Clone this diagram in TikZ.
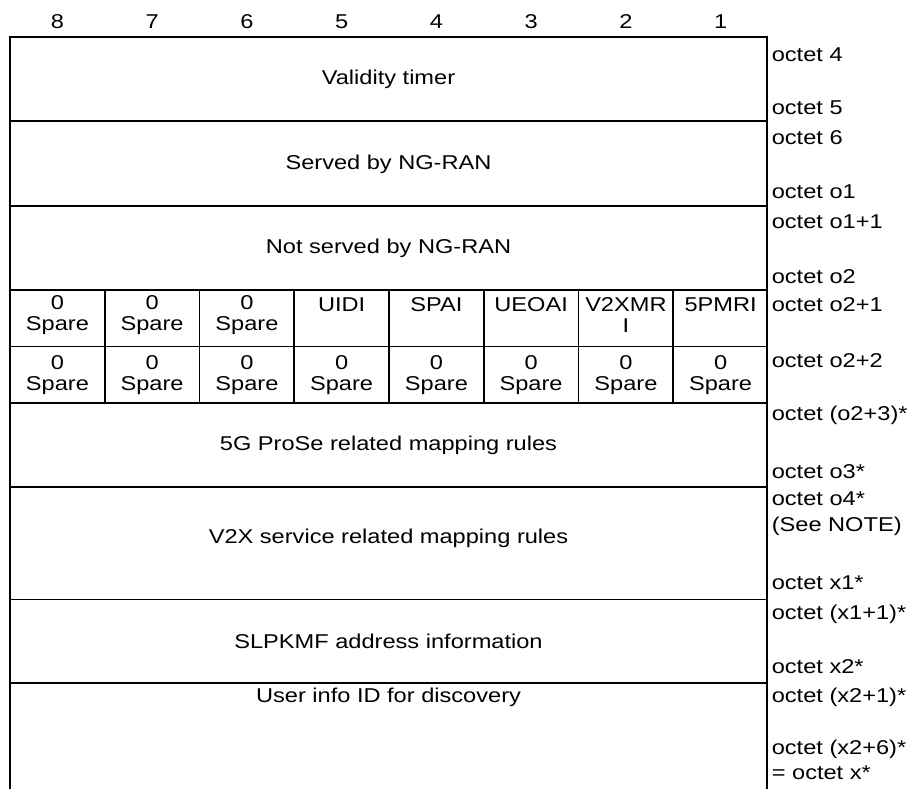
\documentclass[tikz,border=0pt]{standalone}
\usepackage{fontspec}
\setmainfont{Liberation Sans}[FakeStretch=1.18]
\begin{document}
\begin{tikzpicture}[x=1pt, y=-1pt, line width=1.6pt,
    every node/.style={font=\fontsize{20}{21}\selectfont, inner sep=0pt},
    oct/.style={anchor=west}]
    \useasboundingbox (0,0) rectangle (909,789);

    % bit numbers
    \node at (57.4, 22)  (b8)  {8};
    \node at (152.1, 22) (b7)  {7};
    \node at (246.9, 22) (b6)  {6};
    \node at (341.6, 22) (b5)  {5};
    \node at (436.4, 22) (b4)  {4};
    \node at (531.1, 22) (b3)  {3};
    \node at (625.9, 22) (b2)  {2};
    \node at (720.6, 22) (b1)  {1};

    % frame, open at the bottom
    \draw (10,789) -- (10,37) -- (767,37) -- (767,789);
    \draw (10,121) -- (767,121);
    \draw (10,206) -- (767,206);
    \draw (10,290) -- (767,290);
    \draw (10,346.5) -- (767,346.5);
    \draw (10,403) -- (767,403);
    \draw (10,487) -- (767,487);
    \draw (10,599.5) -- (767,599.5);
    \draw (10,683) -- (767,683);

    \draw (104.75,290) -- (104.75,403);
    \draw (199.5,290) -- (199.5,403);
    \draw (294.25,290) -- (294.25,403);
    \draw (389,290) -- (389,403);
    \draw (483.75,290) -- (483.75,403);
    \draw (578.5,290) -- (578.5,403);
    \draw (673.25,290) -- (673.25,403);

    % fields
    \node at (388.5, 79)  (vt)   {Validity timer};
    \node at (388.5, 164) (srv)  {Served by NG-RAN};
    \node at (388.5, 248) (nsrv) {Not served by NG-RAN};
    \node at (388.5, 445) (pmr)  {5G ProSe related mapping rules};
    \node at (388.5, 538) (vmr)  {V2X service related mapping rules};
    \node at (388.5, 641) (slp)  {SLPKMF address information};
    \node at (388.5, 697) (uid)  {User info ID for discovery};

    % octet o2+1
    \node[align=center] at (57.4, 315)  (f8) {0\\Spare};
    \node[align=center] at (152.1, 315) (f7) {0\\Spare};
    \node[align=center] at (246.9, 315) (f6) {0\\Spare};
    \node at (341.6, 304.5) (f5) {UIDI};
    \node at (436.4, 304.5) (f4) {SPAI};
    \node at (531.1, 304.5) (f3) {UEOAI};
    \node[align=center] at (625.9, 315) (f2) {V2XMR\\I};
    \node at (720.6, 304.5) (f1) {5PMRI};

    % octet o2+2
    \node[align=center] at (57.4, 375)  (g8) {0\\Spare};
    \node[align=center] at (152.1, 375) (g7) {0\\Spare};
    \node[align=center] at (246.9, 375) (g6) {0\\Spare};
    \node[align=center] at (341.6, 375) (g5) {0\\Spare};
    \node[align=center] at (436.4, 375) (g4) {0\\Spare};
    \node[align=center] at (531.1, 375) (g3) {0\\Spare};
    \node[align=center] at (625.9, 375) (g2) {0\\Spare};
    \node[align=center] at (720.6, 375) (g1) {0\\Spare};

    % octet numbers
    \node[oct] at (771, 55)  (o4)   {octet 4};
    \node[oct] at (771, 108) (o5)   {octet 5};
    \node[oct] at (771, 138) (o6)   {octet 6};
    \node[oct] at (771, 192) (oo1)  {octet o1};
    \node[oct] at (771, 222) (oo1a) {octet o1+1};
    \node[oct] at (771, 277) (oo2)  {octet o2};
    \node[oct] at (771, 305) (oo2a) {octet o2+1};
    \node[oct] at (771, 361) (oo2b) {octet o2+2};
    \node[oct] at (771, 415) (oo2c) {octet (o2+3)*};
    \node[oct] at (771, 472) (oo3)  {octet o3*};
    \node[oct] at (771, 499) (oo4)  {octet o4*};
    \node[oct] at (771, 526) (note) {(See NOTE)};
    \node[oct] at (771, 583) (ox1)  {octet x1*};
    \node[oct] at (771, 614) (ox1a) {octet (x1+1)*};
    \node[oct] at (771, 667) (ox2)  {octet x2*};
    \node[oct] at (771, 697) (ox2a) {octet (x2+1)*};
    \node[oct] at (771, 749) (ox2b) {octet (x2+6)*};
    \node[oct] at (771, 773) (ox)   {= octet x*};
\end{tikzpicture}
\end{document}
